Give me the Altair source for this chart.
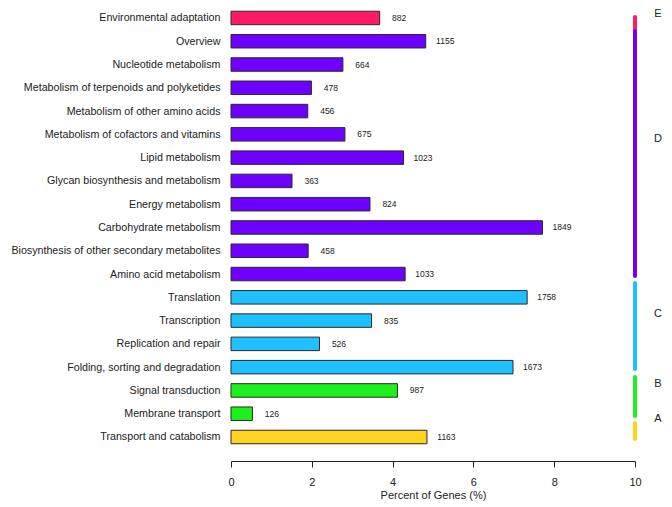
import altair as alt
import pandas as pd

categories = [
    "Environmental adaptation", "Overview", "Nucleotide metabolism",
    "Metabolism of terpenoids and polyketides", "Metabolism of other amino acids",
    "Metabolism of cofactors and vitamins", "Lipid metabolism",
    "Glycan biosynthesis and metabolism", "Energy metabolism",
    "Carbohydrate metabolism", "Biosynthesis of other secondary metabolites",
    "Amino acid metabolism", "Translation", "Transcription",
    "Replication and repair", "Folding, sorting and degradation",
    "Signal transduction", "Membrane transport", "Transport and catabolism",
]
percents = [3.68, 4.82, 2.77, 1.99, 1.90, 2.82, 4.27, 1.51, 3.44, 7.71,
            1.91, 4.31, 7.33, 3.48, 2.19, 6.98, 4.12, 0.53, 4.85]
counts = [882, 1155, 664, 478, 456, 675, 1023, 363, 824, 1849,
          458, 1033, 1758, 835, 526, 1673, 987, 126, 1163]
groups = ["E", "D", "D", "D", "D", "D", "D", "D", "D", "D",
          "D", "D", "C", "C", "C", "C", "B", "B", "A"]

group_names = ["E", "D", "C", "B", "A"]
group_colors = ["#FF1A66", "#6E00FF", "#1EC0FF", "#1EF01E", "#FFD41E"]
# legend segment extents (in row units) and label positions
seg_start = [19.04, 18.44, 7.62, 3.58, 1.60]
seg_end = [18.44, 7.92, 3.92, 1.90, 0.91]
label_pos = [19.15, 13.80, 6.28, 3.28, 1.77]

n = len(categories)
rows = list(range(n, 0, -1))
df = pd.DataFrame({
    "cat": categories, "pct": percents, "count": counts, "grp": groups,
    "row": rows,
})
df["y0"] = df["row"] - 0.29
df["y1"] = df["row"] + 0.29
df["zero"] = 0

seg = pd.DataFrame({"grp": group_names, "s": seg_start, "e": seg_end,
                    "lab": label_pos, "xline": 10.0, "xlab": 10.57})

color_scale = alt.Scale(domain=group_names, range=group_colors)
ydom = alt.Scale(domain=[-0.031, 19.17], nice=False, zero=False)
xs = alt.Scale(domain=[0, 10], nice=False)

label_map = "{" + ",".join(f"{r}:'{c}'" for r, c in zip(rows, categories)) + "}"

xaxis = alt.Axis(
    values=[0, 2, 4, 6, 8, 10], title="Percent of Genes (%)", grid=False,
    domainColor="#222", tickColor="#222", tickSize=6, labelFontSize=11,
    titleFontSize=11, titleFontWeight="normal", labelColor="#222",
    titleColor="#222", labelFont="Liberation Sans", titleFont="Liberation Sans",
    labelPadding=9, titlePadding=2, labelFlush=False, labelOverlap=False)
yaxis = alt.Axis(
    values=rows, labelExpr=f"{label_map}[datum.value]", title=None,
    grid=False, domain=False, ticks=False, labelFontSize=10.7,
    labelColor="#222", labelFont="Liberation Sans", labelPadding=11,
    labelOverlap=False, labelLimit=0, labelFlush=False, labelBound=False)

bars = alt.Chart(df).mark_rect(stroke="#2a2a2a", strokeWidth=1).encode(
    x=alt.X("zero:Q", scale=xs, axis=xaxis, title="Percent of Genes (%)"),
    x2="pct:Q",
    y=alt.Y("y0:Q", scale=ydom, axis=yaxis, title=None),
    y2="y1:Q",
    color=alt.Color("grp:N", scale=color_scale, legend=None),
)

values = alt.Chart(df).mark_text(fontSize=8.5, align="center", dx=19.5,
                                 color="#222", font="Liberation Sans").encode(
    x=alt.X("pct:Q", scale=xs, axis=xaxis, title="Percent of Genes (%)"),
    y=alt.Y("row:Q", scale=ydom, axis=yaxis, title=None),
    text="count:Q",
)

segs = alt.Chart(seg).mark_rule(strokeWidth=4, strokeCap="round").encode(
    x=alt.X("xline:Q", scale=xs, axis=xaxis, title="Percent of Genes (%)"),
    y=alt.Y("s:Q", scale=ydom, axis=yaxis, title=None),
    y2="e:Q",
    color=alt.Color("grp:N", scale=color_scale, legend=None),
)

labs = alt.Chart(seg).mark_text(fontSize=11, align="center", color="#222",
                                font="Liberation Sans").encode(
    x=alt.X("xlab:Q", scale=xs, axis=xaxis, title="Percent of Genes (%)"),
    y=alt.Y("lab:Q", scale=ydom, axis=yaxis, title=None),
    text="grp:N",
)

chart = alt.layer(bars, values, segs, labs).properties(
    width=404, height=447,
    autosize=alt.AutoSizeParams(type="none"),
    padding={"left": 223, "top": 6, "right": 28, "bottom": 40},
    background="white",
).configure_view(stroke=None, strokeWidth=0)

chart.save("out.html", embed_options={"renderer": "svg", "actions": False})
